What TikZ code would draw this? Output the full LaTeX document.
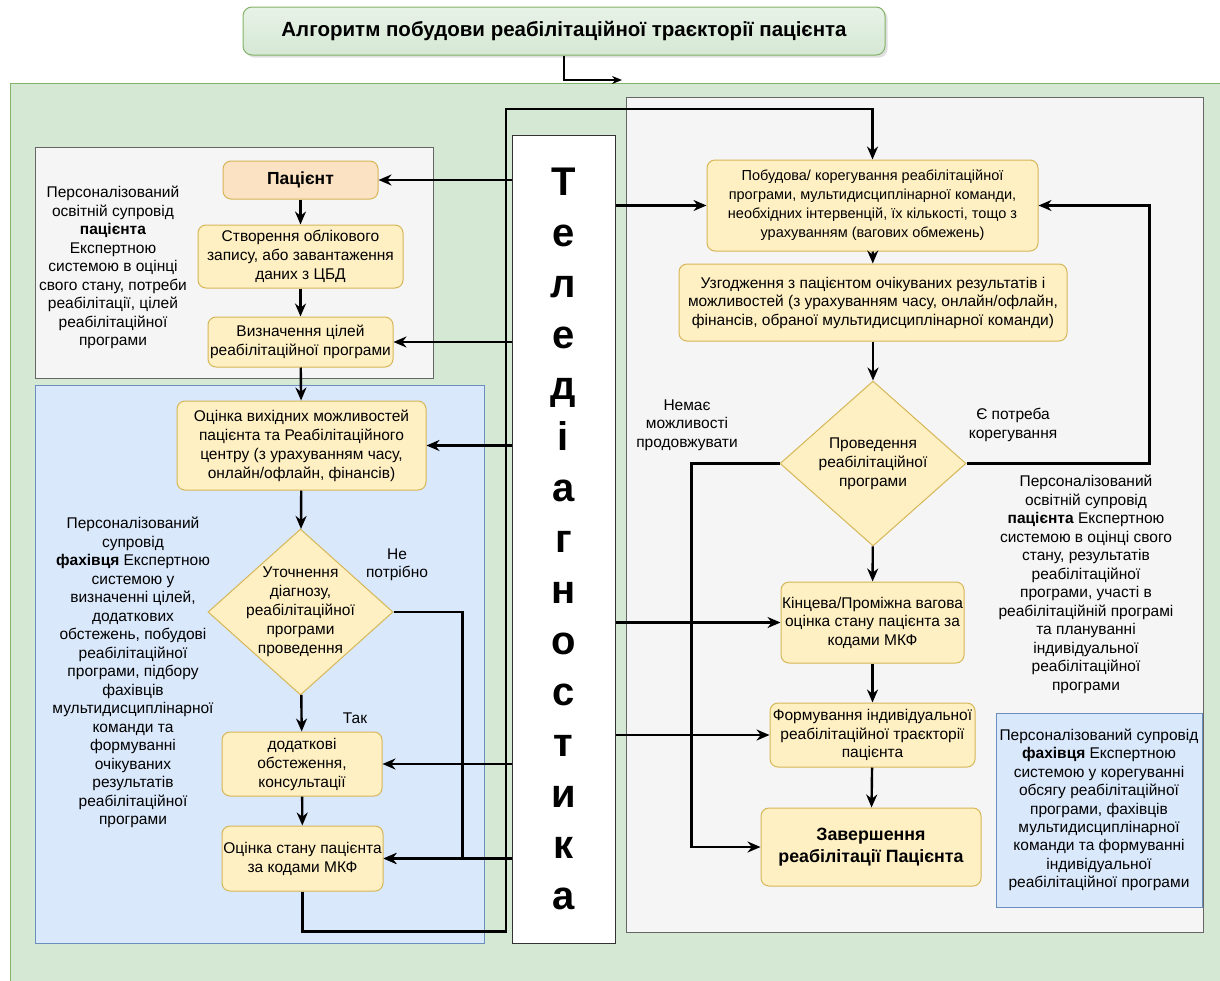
\documentclass[tikz,border=0pt]{standalone}
\usepackage{fontspec}
\setmainfont{Liberation Sans}
\usetikzlibrary{shapes.geometric,arrows.meta,shadows}

\definecolor{panelfill}{HTML}{D5E8D4}
\definecolor{panelline}{HTML}{82B366}
\definecolor{greyfill}{HTML}{F5F5F5}
\definecolor{greyline}{HTML}{666666}
\definecolor{bluefill}{HTML}{DAE8FC}
\definecolor{blueline}{HTML}{6C8EBF}
\definecolor{boxfill}{HTML}{FFF0C4}
\definecolor{boxline}{HTML}{D6B656}
\definecolor{patfill}{HTML}{FBE2C2}

\tikzset{
  box/.style={draw=boxline, fill=boxfill, rounded corners=8pt, align=center,
    inner sep=0pt, line width=1pt, font=\fontsize{15.5}{19}\selectfont},
  rbox/.style={box, font=\fontsize{15.5}{18.5}\selectfont},
  decision/.style={diamond, draw=boxline, fill=boxfill, inner sep=0pt, line width=1pt},
  dtext/.style={align=center, font=\fontsize{15.5}{19}\selectfont},
  note/.style={align=center, font=\fontsize{15.5}{18.5}\selectfont},
  flow/.style={line width=2.4pt, -{Stealth[length=13pt,width=11pt]}},
  wire/.style={line width=2.4pt}
}

\begin{document}
\begin{tikzpicture}[x=1pt,y=-1pt]
\useasboundingbox (0,0) rectangle (1220,980);

%Setup panels.
\fill[white] (0,0) rectangle (1220,980);
\draw[fill=panelfill, draw=panelline, line width=1pt] (10,83) rectangle (1240,1000);
\draw[fill=greyfill, draw=greyline, line width=1pt] (35,147) rectangle (433,378);
\draw[fill=bluefill, draw=blueline, line width=1pt] (35,385) rectangle (484,943);
\draw[fill=greyfill, draw=greyline, line width=1pt] (626,97) rectangle (1203,932);

%Declare nodes.
\node[draw=panelline, top color=panelfill!55, bottom color=panelfill, rounded corners=9pt,
  line width=1pt, drop shadow={opacity=0.25}, minimum width=642pt, minimum height=48pt,
  font=\bfseries\fontsize{20.5}{24}\selectfont] (title) at (564,31)
  {Алгоритм побудови реабілітаційної траєкторії пацієнта};
\coordinate (entry) at (622,80);

\node[draw=black!80, fill=white, line width=1pt, minimum width=103pt, minimum height=808pt,
  inner sep=0pt, align=center, font=\bfseries\fontsize{40}{51}\selectfont] (tele) at (563.5,539)
  {Т\\е\\л\\е\\д\\і\\а\\г\\н\\о\\с\\т\\и\\к\\а};

\node[box, fill=patfill, minimum width=155pt, minimum height=38pt,
  font=\bfseries\fontsize{17.5}{20}\selectfont] (pat) at (300.5,180) {Пацієнт};
\node[box, minimum width=205pt, minimum height=63pt] (acct) at (300.5,256.5)
  {Створення облікового\\запису, або завантаження\\даних з ЦБД};
\node[box, minimum width=185pt, minimum height=50pt] (goals) at (300.5,342)
  {Визначення цілей\\реабілітаційної програми};
\node[box, minimum width=249pt, minimum height=89pt] (assess) at (301.5,445.5)
  {Оцінка вихідних можливостей\\пацієнта та Реабілітаційного\\центру (з урахуванням часу,\\онлайн/офлайн, фінансів)};
\node[decision, minimum width=185pt, minimum height=166pt] (clarify) at (300.5,612) {};
\node[dtext] (clarifytext) at (clarify) {Уточнення\\діагнозу,\\реабілітаційної\\програми\\проведення};
\node[box, minimum width=160pt, minimum height=64pt] (extra) at (302,764)
  {додаткові\\обстеження,\\консультації};
\node[box, minimum width=161pt, minimum height=65pt] (state) at (302.5,858.5)
  {Оцінка стану пацієнта\\за кодами МКФ};

\node[note] (notepat) at (113,267.5)
  {Персоналізований\\освітній супровід\\\textbf{пацієнта}\\Експертною\\системою в оцінці\\свого стану, потреби\\реабілітації, цілей\\реабілітаційної\\програми};
\node[note] (notespec) at (133,672.5)
  {Персоналізований\\супровід\\\textbf{фахівця} Експертною\\системою у\\визначенні цілей,\\додаткових\\обстежень, побудові\\реабілітаційної\\програми, підбору\\фахівців\\мультидисциплінарної\\команди та\\формуванні\\очікуваних\\результатів\\реабілітаційної\\програми};
\node[note] (notneeded) at (397,565) {Не\\потрібно};
\node[note] (yes) at (355,718) {Так};

\node[rbox, font=\fontsize{14.5}{19}\selectfont, minimum width=331pt, minimum height=91pt] (build) at (872.5,205.5)
  {Побудова/ корегування реабілітаційної\\програми, мультидисциплінарної команди,\\необхідних інтервенцій, їх кількості, тощо з\\урахуванням (вагових обмежень)};
\node[rbox, minimum width=388pt, minimum height=77pt] (agree) at (873,302.5)
  {Узгодження з пацієнтом очікуваних результатів і\\можливостей (з урахуванням часу, онлайн/офлайн,\\фінансів, обраної мультидисциплінарної команди)};
\node[decision, minimum width=186pt, minimum height=165pt] (conduct) at (873,463.5) {};
\node[dtext] (conducttext) at (conduct)
  {Проведення\\реабілітаційної\\програми};
\node[rbox, minimum width=183pt, minimum height=81pt] (final) at (872.5,622.5)
  {Кінцева/Проміжна вагова\\оцінка стану пацієнта за\\кодами МКФ};
\node[rbox, minimum width=205pt, minimum height=64pt] (form) at (872.5,735)
  {Формування індивідуальної\\реабілітаційної траєкторії\\пацієнта};
\node[box, minimum width=220pt, minimum height=78pt,
  font=\bfseries\fontsize{17.8}{21.5}\selectfont] (finish) at (871,847)
  {Завершення\\реабілітації Пацієнта};

\node[note] (nochance) at (687,425) {Немає\\можливості\\продовжувати};
\node[note] (needfix) at (1013,425) {Є потреба\\корегування};
\node[note] (notepatr) at (1086,584.5)
  {Персоналізований\\освітній супровід\\\textbf{пацієнта} Експертною\\системою в оцінці свого\\стану, результатів\\реабілітаційної\\програми, участі в\\реабілітаційній програмі\\та плануванні\\індивідуальної\\реабілітаційної\\програми};
\node[draw=blueline, fill=bluefill, line width=1pt, minimum width=206pt, minimum height=194pt,
  inner sep=0pt, align=center, font=\fontsize{15.5}{18.4}\selectfont] (notespecr) at (1099,810)
  {Персоналізований супровід\\\textbf{фахівця} Експертною\\системою у корегуванні\\обсягу реабілітаційної\\програми, фахівців\\мультидисциплінарної\\команди та формуванні\\індивідуальної\\реабілітаційної програми};
\coordinate (loop) at (506,109);

%Setup edges.
\draw[wire, line width=1.4pt, -{Stealth[length=10pt,width=8pt]}] (title.south) |- (entry);
\draw[flow] (pat) -- (acct);
\draw[flow] (acct) -- (goals);
\draw[flow] (goals) -- (assess);
\draw[flow] (assess) -- (clarify);
\draw[flow] (clarify) -- (extra);
\draw[flow] (extra) -- (state);
\draw[flow] (clarify.east) -- ++(69,0) |- (state.east);
\draw[flow] (state.south) -- ++(0,40) -| (loop) -| (build.north);

\draw[flow] (tele.west |- pat.east) -- (pat.east);
\draw[flow] (tele.west |- goals.east) -- (goals.east);
\draw[flow] (tele.west |- assess.east) -- (assess.east);
\draw[flow] (tele.west |- extra.east) -- (extra.east);
\draw[flow] (tele.west |- state.east) -- (state.east);
\draw[flow] (tele.east |- build.west) -- (build.west);
\draw[flow] (tele.east |- final.west) -- (final.west);
\draw[flow] (tele.east |- form.west) -- (form.west);

\draw[flow] (build) -- (agree);
\draw[flow] (agree) -- (conduct);
\draw[flow] (conduct) -- (final);
\draw[flow] (final) -- (form);
\draw[flow] (form) -- (finish);
\draw[flow] (conduct.east) -- ++(183,0) |- (build.east);
\draw[flow] (conduct.west) -- ++(-88,0) |- (finish.west);

\end{tikzpicture}
\end{document}
